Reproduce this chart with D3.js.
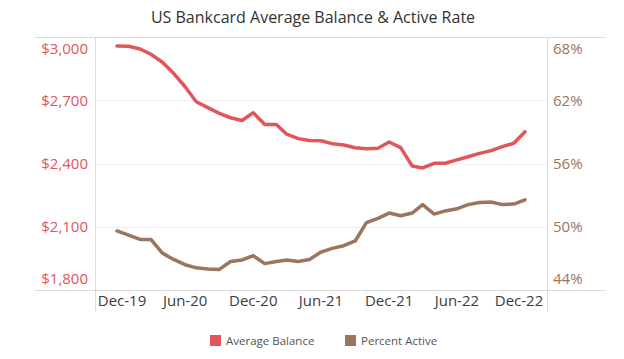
<!DOCTYPE html>
<html>
<head>
<meta charset="utf-8">
<script src="https://cdn.jsdelivr.net/npm/d3@7"></script>
<style>
  body { margin: 0; background: #fff; }
  svg { display: block; font-family: "Open Sans", sans-serif; }
</style>
</head>
<body>
<svg width="624" height="359"></svg>
<script>
(function() {
  var months = ["2019-12", "2020-01", "2020-02", "2020-03", "2020-04", "2020-05", "2020-06",
    "2020-07", "2020-08", "2020-09", "2020-10", "2020-11", "2020-12", "2021-01", "2021-02",
    "2021-03", "2021-04", "2021-05", "2021-06", "2021-07", "2021-08", "2021-09", "2021-10",
    "2021-11", "2021-12", "2022-01", "2022-02", "2022-03", "2022-04", "2022-05", "2022-06",
    "2022-07", "2022-08", "2022-09", "2022-10", "2022-11", "2022-12"];

  var balance = [2957, 2956, 2943, 2918, 2880, 2828, 2764, 2693, 2665, 2638, 2617, 2604, 2641,
    2585, 2585, 2539, 2518, 2509, 2508, 2494, 2488, 2475, 2470, 2472, 2502, 2475, 2388, 2379,
    2401, 2401, 2417, 2432, 2448, 2461, 2480, 2496, 2551];

  var active = [49.6, 49.2, 48.8, 48.8, 47.5, 46.9, 46.4, 46.1, 46.0, 45.95, 46.7, 46.85, 47.25,
    46.5, 46.7, 46.85, 46.7, 46.9, 47.6, 47.95, 48.2, 48.65, 50.4, 50.8, 51.3, 51.05, 51.3, 52.1,
    51.2, 51.5, 51.7, 52.1, 52.3, 52.35, 52.1, 52.15, 52.55];

  var xTicks = ["2019-12", "2020-06", "2020-12", "2021-06", "2021-12", "2022-06", "2022-12"];
  var leftTicks = [1800, 2100, 2400, 2700, 3000];
  var rightTicks = [44, 50, 56, 62, 68];
  var seriesNames = ["Average Balance", "Percent Active"];

  var red = "#e15759", brown = "#9c7560";
  var svg = d3.select("svg");
  var parse = d3.timeParse("%Y-%m");
  var dates = months.map(parse);

  var left = 95, right = 547, top = 37, bottom = 290;

  var x = d3.scaleTime()
    .domain([parse("2019-12"), parse("2022-12")])
    .range([117, 525]);
  var yL = d3.scaleLinear().domain([1800, 3000]).range([bottom, top]);
  var yR = d3.scaleLinear().domain([44, 68]).range([bottom, top]);

  // title
  svg.append("text")
    .attr("x", 313).attr("y", 23)
    .attr("text-anchor", "middle")
    .style("font-size", "16px")
    .style("fill", "#333")
    .text("US Bankcard Average Balance & Active Rate");

  // gridlines
  svg.append("g").selectAll("line")
    .data(leftTicks.slice(1, -1)).enter().append("line")
    .attr("x1", left).attr("x2", right)
    .attr("y1", function(d) { return Math.round(yL(d)) + 0.5; })
    .attr("y2", function(d) { return Math.round(yL(d)) + 0.5; })
    .style("stroke", "#f0f0f0");

  // frame lines
  var frame = svg.append("g").style("stroke", "#dcdcdc").style("fill", "none");
  frame.append("line").attr("x1", 35).attr("x2", 606).attr("y1", top + 0.5).attr("y2", top + 0.5);
  frame.append("line").attr("x1", 35).attr("x2", 606).attr("y1", bottom + 0.5).attr("y2", bottom + 0.5);
  frame.append("line").attr("x1", left + 0.5).attr("x2", left + 0.5).attr("y1", top).attr("y2", 311);
  frame.append("line").attr("x1", right + 0.5).attr("x2", right + 0.5).attr("y1", top).attr("y2", 311);

  // quarterly x ticks
  svg.append("g").selectAll("line")
    .data(x.ticks(d3.timeMonth.every(3))).enter().append("line")
    .attr("x1", function(d) { return Math.round(x(d)) + 0.5; })
    .attr("x2", function(d) { return Math.round(x(d)) + 0.5; })
    .attr("y1", bottom).attr("y2", bottom + 4)
    .style("stroke", "#ececec");

  // left axis labels
  svg.append("g").selectAll("text")
    .data(leftTicks).enter().append("text")
    .attr("x", 88)
    .attr("y", function(d) { return Math.max(49, Math.min(279, yL(d))); })
    .attr("dy", "0.35em")
    .attr("text-anchor", "end")
    .style("font-size", "15px")
    .style("fill", red)
    .text(function(d) { return "$" + d3.format(",")(d); });

  // right axis labels
  svg.append("g").selectAll("text")
    .data(rightTicks).enter().append("text")
    .attr("x", 553)
    .attr("y", function(d) { return Math.max(49, Math.min(279, yR(d))); })
    .attr("dy", "0.35em")
    .style("font-size", "15px")
    .style("fill", brown)
    .text(function(d) { return d + "%"; });

  // x axis labels
  var fmt = d3.timeFormat("%b-%y");
  svg.append("g").selectAll("text")
    .data(xTicks.map(parse)).enter().append("text")
    .attr("x", function(d) { return Math.max(122, Math.min(519, x(d))); })
    .attr("y", 306)
    .attr("text-anchor", "middle")
    .style("font-size", "15px")
    .style("fill", "#3c3c3c")
    .text(fmt);

  // lines
  var lineL = d3.line()
    .x(function(d, i) { return x(dates[i]); })
    .y(function(d) { return yL(d); });
  var lineR = d3.line()
    .x(function(d, i) { return x(dates[i]); })
    .y(function(d) { return yR(d); });

  svg.append("path").datum(active)
    .attr("d", lineR)
    .style("fill", "none").style("stroke", brown)
    .style("stroke-width", 3.5).style("stroke-linejoin", "round").style("stroke-linecap", "round");
  svg.append("path").datum(balance)
    .attr("d", lineL)
    .style("fill", "none").style("stroke", red)
    .style("stroke-width", 3.5).style("stroke-linejoin", "round").style("stroke-linecap", "round");

  // legend
  var legX = [210, 345], colors = [red, brown];
  var leg = svg.append("g").selectAll("g")
    .data(seriesNames).enter().append("g")
    .attr("transform", function(d, i) { return "translate(" + legX[i] + ",335)"; });
  leg.append("rect").attr("width", 11).attr("height", 11)
    .style("fill", function(d, i) { return colors[i]; });
  leg.append("text").attr("x", 16).attr("y", 6).attr("dy", "0.35em")
    .style("font-size", "11.5px").style("fill", "#555")
    .text(function(d) { return d; });
}).call(this);
</script>
</body>
</html>
